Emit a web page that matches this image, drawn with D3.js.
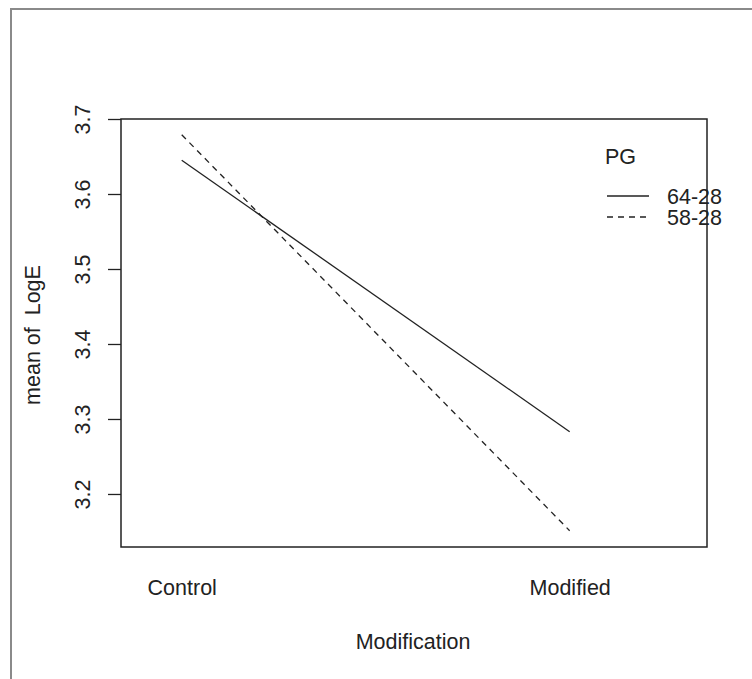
<!DOCTYPE html>
<html>
<head>
<meta charset="utf-8">
<script src="https://cdn.jsdelivr.net/npm/d3@7"></script>
<style>
  html, body { margin: 0; padding: 0; background: #fff; }
  svg { display: block; }
  text { font-family: "Liberation Sans", Arial, sans-serif; fill: #222; }
</style>
</head>
<body>
<svg id="chart" width="752" height="679"></svg>
<script>
// ---- data ----
const categories = ["Control", "Modified"];
const seriesNames = ["64-28", "58-28"];
const series6428 = [3.645, 3.283];
const series5828 = [3.679, 3.151];
const yTicks = [3.2, 3.3, 3.4, 3.5, 3.6, 3.7];
const xLabel = "Modification";
const yLabel = "mean of  LogE";
const legendTitle = "PG";

const allSeries = [
  { name: seriesNames[0], values: series6428, dash: null },
  { name: seriesNames[1], values: series5828, dash: "6,5" }
];

const svg = d3.select("#chart");
const FS = 21.5;

// outer frame (gray)
svg.append("path")
  .attr("d", "M11,679 L11,9 L752,9")
  .attr("fill", "none").attr("stroke", "#8a8a8a").attr("stroke-width", 2);

const plot = { left: 121, right: 707, top: 119, bottom: 547 };

const x = d3.scaleLinear().domain([-0.1565, 1.354]).range([plot.left, plot.right]);
const y = d3.scaleLinear().domain([3.1293, 3.7]).range([plot.bottom, plot.top]);

// y axis
const yAxis = d3.axisLeft(y).tickValues(yTicks).tickSize(13).tickSizeOuter(0).tickFormat(d3.format(".1f"));
const gy = svg.append("g").attr("transform", `translate(${plot.left},0)`).call(yAxis);
gy.select(".domain").remove();
gy.selectAll(".tick line").attr("stroke", "#222").attr("stroke-width", 1.3);
gy.selectAll(".tick text")
  .attr("x", null).attr("dy", null)
  .attr("transform", "translate(-31,0) rotate(-90)")
  .attr("text-anchor", "middle")
  .attr("font-size", FS)
  .attr("fill", "#333")
  .style("font-family", "'Liberation Sans', Arial, sans-serif");

// x axis labels (no ticks)
const xAxis = d3.axisBottom(x).tickValues(categories.map((c, i) => i))
  .tickFormat(i => categories[i]).tickSize(0);
const gx = svg.append("g").attr("transform", `translate(0,${plot.bottom})`).call(xAxis);
gx.select(".domain").remove();
gx.selectAll(".tick text")
  .attr("y", 48).attr("dy", null)
  .attr("font-size", FS).attr("fill", "#222")
  .style("font-family", "'Liberation Sans', Arial, sans-serif");

// box
svg.append("rect")
  .attr("x", plot.left).attr("y", plot.top)
  .attr("width", plot.right - plot.left).attr("height", plot.bottom - plot.top)
  .attr("fill", "none").attr("stroke", "#222").attr("stroke-width", 1.5);

// lines
const line = d3.line().x((d, i) => x(i)).y(d => y(d));
svg.selectAll(".series").data(allSeries).enter().append("path")
  .attr("class", "series")
  .attr("d", d => line(d.values))
  .attr("fill", "none").attr("stroke", "#222").attr("stroke-width", 1.3)
  .attr("stroke-dasharray", d => d.dash);

// axis titles
svg.append("text").attr("x", 413).attr("y", 649).attr("text-anchor", "middle")
  .attr("font-size", FS).text(xLabel);
svg.append("text").attr("transform", "translate(40,335) rotate(-90)").attr("text-anchor", "middle")
  .attr("font-size", FS).attr("xml:space", "preserve").style("white-space", "pre").text(yLabel);

// legend
const lg = svg.append("g");
lg.append("text").attr("x", 605).attr("y", 164).attr("font-size", FS).text(legendTitle);
const items = lg.selectAll(".li").data(allSeries).enter().append("g")
  .attr("transform", (d, i) => `translate(0,${196 + i * 21})`);
items.append("line").attr("x1", 607).attr("x2", 649).attr("y1", 0).attr("y2", 0)
  .attr("stroke", "#222").attr("stroke-width", 1.3).attr("stroke-dasharray", d => d.dash);
items.append("text").attr("x", 667).attr("y", 8).attr("font-size", FS).text(d => d.name);
</script>
</body>
</html>
